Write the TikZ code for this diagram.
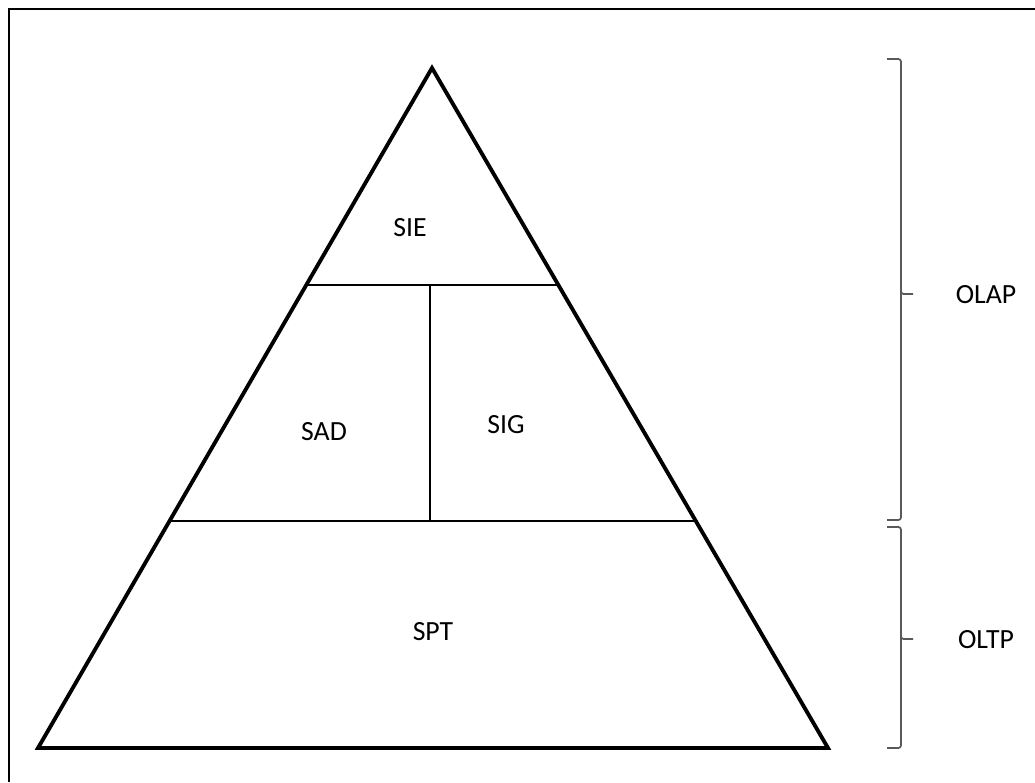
\documentclass[tikz,border=0pt]{standalone}
\usepackage{fontspec}
\setmainfont{Carlito}
\usepackage{tikz}
\usetikzlibrary{calc}

\begin{document}
\begin{tikzpicture}[
    x=0.02cm, y=-0.02cm,
    edge/.style={line width=2.2pt, line join=miter},
    divide/.style={line width=0.9pt},
    bracket/.style={draw=black!65, line width=1pt, rounded corners=1.5pt},
    lbl/.style={font=\fontsize{15.8}{18}\selectfont, inner sep=0pt}
]
\useasboundingbox (0,0) rectangle (1035,782);
% frame (only top and left edges show)
\draw[line width=1.4pt] (9,782) -- (9,9) -- (1035,9);

% pyramid
\coordinate (apex) at (432,68);
\coordinate (bl) at (38,748);
\coordinate (br) at (828,748);
\draw[edge] (apex) -- (br) -- (bl) -- cycle;

% levels
\coordinate (l1) at ($(apex)!0.319!(bl)$);
\coordinate (r1) at ($(apex)!0.319!(br)$);
\coordinate (l2) at ($(apex)!0.666!(bl)$);
\coordinate (r2) at ($(apex)!0.666!(br)$);
\coordinate (mid) at (430,285);
\draw[divide] (l1) -- (r1);
\draw[divide] (l2) -- (r2);
\draw[divide] (mid) -- (mid |- l2);

\node[lbl] (sie) at (410,228) {SIE};
\node[lbl] (sad) at (324,432) {SAD};
\node[lbl] (sig) at (506,425) {SIG};
\node[lbl] (spt) at (433,632) {SPT};

% brackets on the right
\draw[bracket] (887,59) -| (901,294) -- (913,294);
\draw[bracket] (901,290) |- (887,520);
\draw[bracket] (887,527) -| (901,639) -- (913,639);
\draw[bracket] (901,635) |- (887,748);

\node[lbl] (olap) at (986,295) {OLAP};
\node[lbl] (oltp) at (986,640) {OLTP};
\end{tikzpicture}
\end{document}
